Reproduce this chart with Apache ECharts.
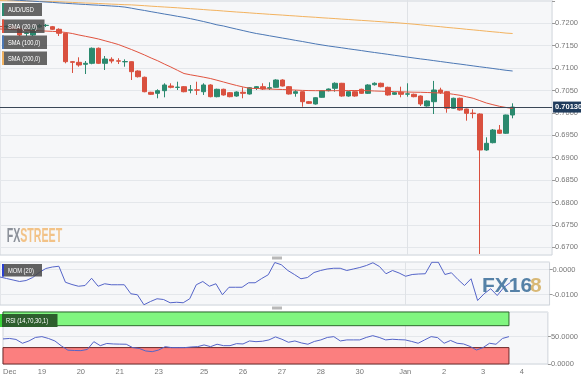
<!DOCTYPE html>
<html><head><meta charset="utf-8">
<script src="https://cdn.jsdelivr.net/npm/echarts@6/dist/echarts.min.js"></script>
<style>html,body{margin:0;padding:0;background:#fff}#c{width:581px;height:380px}</style>
</head><body><div id="c"></div>
<script>
// ---- DATA (AUD/USD 4H) ----
const tickIndex = [0,6,12,18,24,31,37,43,49,55,62,68,74,80];
const tickText  = ['Dec','19','20','21','23','25','26','27','28','30','Jan','2','3','4'];
const slotCount = 85;

const opens = [0.71930,0.71924,0.71935,0.71888,0.71775,0.71739,0.71917,0.71951,0.71924,0.71866,
0.71777,0.71143,0.71129,0.71085,0.71107,0.71442,0.71107,0.71196,0.71162,0.71140,
0.71143,0.70935,0.70795,0.70460,0.70437,0.70496,0.70600,0.70568,0.70585,0.70508,
0.70514,0.70473,0.70623,0.70362,0.70527,0.70451,0.70377,0.70460,0.70422,0.70549,
0.70585,0.70549,0.70571,0.70734,0.70585,0.70437,0.70473,0.70250,0.70199,0.70348,
0.70496,0.70549,0.70661,0.70377,0.70473,0.70527,0.70437,0.70629,0.70661,0.70571,
0.70415,0.70460,0.70418,0.70415,0.70377,0.70154,0.70250,0.70511,0.70473,0.70103,
0.70326,0.70087,0.69995,0.69975,0.69172,0.69335,0.69618,0.69545,0.69953];
const closes = [0.71924,0.71935,0.71866,0.71739,0.71785,0.71895,0.71951,0.71955,0.71866,0.71777,
0.71143,0.71129,0.71069,0.71107,0.71442,0.71107,0.71203,0.71158,0.71155,0.71146,
0.70920,0.70808,0.70473,0.70415,0.70496,0.70623,0.70571,0.70575,0.70473,0.70514,
0.70508,0.70623,0.70362,0.70527,0.70400,0.70362,0.70466,0.70437,0.70562,0.70585,
0.70533,0.70562,0.70734,0.70600,0.70422,0.70473,0.70250,0.70214,0.70339,0.70496,
0.70533,0.70661,0.70377,0.70473,0.70377,0.70437,0.70623,0.70661,0.70585,0.70400,
0.70451,0.70415,0.70425,0.70362,0.70199,0.70266,0.70511,0.70451,0.70103,0.70326,
0.70065,0.69991,0.69985,0.69172,0.69321,0.69618,0.69545,0.69953,0.70130];
const lows = [0.71895,0.71888,0.71850,0.71716,0.71716,0.71716,0.71895,0.71917,0.71850,0.71716,
0.71107,0.70891,0.71031,0.70868,0.71085,0.71091,0.70958,0.71107,0.71091,0.71031,
0.70734,0.70790,0.70460,0.70400,0.70326,0.70348,0.70549,0.70511,0.70460,0.70437,
0.70400,0.70400,0.70348,0.70348,0.70385,0.70348,0.70362,0.70326,0.70410,0.70511,
0.70511,0.70511,0.70560,0.70590,0.70410,0.70362,0.70138,0.70199,0.70185,0.70339,
0.70480,0.70473,0.70362,0.70362,0.70362,0.70422,0.70422,0.70610,0.70570,0.70385,
0.70400,0.70348,0.70362,0.70348,0.70154,0.70140,0.69975,0.70422,0.70004,0.70090,
0.70050,0.69826,0.69879,0.66850,0.69155,0.69320,0.69530,0.69530,0.69879];
const highs = [0.71962,0.71951,0.71962,0.71917,0.71810,0.71917,0.71984,0.71984,0.71940,0.71888,
0.71790,0.71158,0.71241,0.71158,0.71460,0.71460,0.71270,0.71241,0.71220,0.71196,
0.71150,0.70950,0.70810,0.70470,0.70527,0.70661,0.70661,0.70696,0.70600,0.70623,
0.70696,0.70661,0.70640,0.70540,0.70540,0.70466,0.70480,0.70571,0.70575,0.70600,
0.70661,0.70683,0.70750,0.70750,0.70600,0.70511,0.70480,0.70266,0.70348,0.70511,
0.70545,0.70683,0.70670,0.70485,0.70485,0.70540,0.70640,0.70683,0.70675,0.70585,
0.70466,0.70585,0.70661,0.70430,0.70390,0.70280,0.70714,0.70562,0.70485,0.70340,
0.70340,0.70095,0.70080,0.69990,0.69455,0.69640,0.69730,0.69960,0.70214];

const sma20 = [0.71873,0.71866,0.71859,0.71853,0.71846,0.71839,0.71833,0.71826,0.71819,0.71812,
0.71795,0.71772,0.71739,0.71710,0.71681,0.71649,0.71609,0.71569,0.71527,0.71471,
0.71415,0.71355,0.71292,0.71225,0.71163,0.71091,0.71024,0.70951,0.70879,0.70850,
0.70824,0.70797,0.70768,0.70730,0.70690,0.70650,0.70612,0.70578,0.70549,0.70545,
0.70538,0.70533,0.70527,0.70522,0.70516,0.70509,0.70502,0.70498,0.70496,0.70496,
0.70496,0.70496,0.70496,0.70498,0.70500,0.70498,0.70496,0.70489,0.70484,0.70480,
0.70475,0.70471,0.70466,0.70462,0.70460,0.70455,0.70449,0.70444,0.70437,0.70415,
0.70393,0.70359,0.70326,0.70274,0.70221,0.70183,0.70147,0.70121,0.70098];
const sma100 = [0.72538,0.72529,0.72520,0.72511,0.72502,0.72493,0.72484,0.72475,0.72466,0.72455,
0.72446,0.72437,0.72428,0.72420,0.72411,0.72404,0.72395,0.72386,0.72377,0.72362,
0.72337,0.72310,0.72286,0.72259,0.72234,0.72207,0.72183,0.72156,0.72132,0.72103,
0.72071,0.72038,0.72004,0.71966,0.71940,0.71904,0.71870,0.71837,0.71803,0.71772,
0.71748,0.71721,0.71696,0.71670,0.71645,0.71618,0.71594,0.71567,0.71540,0.71516,
0.71493,0.71473,0.71453,0.71431,0.71411,0.71391,0.71368,0.71348,0.71328,0.71308,
0.71286,0.71266,0.71245,0.71225,0.71205,0.71187,0.71167,0.71147,0.71127,0.71107,
0.71089,0.71069,0.71049,0.71029,0.71011,0.70991,0.70971,0.70951,0.70935];
const sma200 = [0.72507,0.72504,0.72502,0.72498,0.72495,0.72493,0.72489,0.72487,0.72484,0.72480,
0.72473,0.72466,0.72460,0.72453,0.72449,0.72442,0.72435,0.72428,0.72422,0.72415,
0.72411,0.72402,0.72393,0.72382,0.72373,0.72364,0.72355,0.72346,0.72335,0.72326,
0.72317,0.72306,0.72295,0.72286,0.72274,0.72263,0.72252,0.72243,0.72232,0.72221,
0.72212,0.72201,0.72192,0.72183,0.72172,0.72163,0.72152,0.72143,0.72134,0.72123,
0.72114,0.72105,0.72094,0.72085,0.72074,0.72065,0.72056,0.72045,0.72036,0.72024,
0.72016,0.72004,0.71993,0.71980,0.71966,0.71951,0.71937,0.71924,0.71908,0.71895,
0.71882,0.71866,0.71853,0.71839,0.71824,0.71810,0.71797,0.71781,0.71772];

const mom20 = [-0.0030,-0.0036,-0.0042,-0.0048,-0.0044,-0.0032,-0.0012,0.0004,0.0010,0.0013,
-0.0051,-0.0060,-0.0067,-0.0064,-0.0035,-0.0067,-0.0057,-0.0061,-0.0061,-0.0061,
-0.0097,-0.0101,-0.0141,-0.0128,-0.0117,-0.0120,-0.0133,-0.0131,-0.0133,-0.0117,
-0.0061,-0.0048,-0.0067,-0.0057,-0.0101,-0.0071,-0.0071,-0.0071,-0.0053,-0.0053,
-0.0036,-0.0021,0.0028,0.0019,-0.0004,-0.0020,-0.0037,-0.0032,-0.0012,-0.0004,
0.0002,0.0005,0.0005,-0.0004,0.0002,0.0008,0.0016,0.0027,0.0012,-0.0017,
-0.0004,-0.0014,-0.0027,-0.0020,-0.0018,-0.0017,0.0029,0.0029,-0.0020,-0.0013,
-0.0040,-0.0064,-0.0037,-0.0124,-0.0097,-0.0077,-0.0104,-0.0072,-0.0052];

const rsi14 = [45.8,46.7,44.9,37.9,42.1,48.5,50.0,46.7,42.1,33.0,
25.3,24.7,24.4,26.6,40.8,33.5,37.5,36.6,36.3,36.1,
29.9,28.4,23.8,22.5,25.6,31.7,29.9,29.9,29.9,31.1,
31.7,34.8,31.7,36.1,33.5,33.5,37.2,36.6,42.1,40.8,
41.6,44.0,49.5,45.2,39.7,42.1,38.5,36.1,41.2,44.0,
48.5,50.0,42.1,44.0,44.0,44.0,48.5,51.8,48.5,44.0,
45.2,44.5,44.0,41.2,37.9,44.0,50.0,48.2,37.9,43.0,
37.9,36.6,32.1,25.6,29.9,37.9,36.1,46.7,50.0];
const rsiUpper = 70, rsiLower = 30;

// ---- BUILD ----
const categories = Array.from({length: slotCount}, (_, i) => 'bar' + i);
const candleData = opens.map((o, i) => [o, closes[i], lows[i], highs[i]]);
const lastPrice = closes[closes.length - 1];
const lastIdx = closes.length - 1;

const UP = '#2b8a6f', DOWN = '#d9503f';
const FONT = '"Liberation Sans", Arial, sans-serif';
const bg = '#f6f7f9', border = '#cfd4da', gridC = '#e4e7eb';

function xAx(gi, labels) {
  return {
    type: 'category', gridIndex: gi, boundaryGap: false,
    data: labels ? categories.map((c, i) => i === 0 ? {value: c, textStyle: {align: 'left'}} : c) : categories,
    axisLine: {show: false}, axisTick: {show: false},
    axisLabel: labels ? {
      show: true, interval: (i) => tickIndex.indexOf(i) >= 0,
      formatter: (v, i) => { const k = tickIndex.indexOf(i); return k >= 0 ? tickText[k] : ''; },
      fontSize: 7.5, color: '#777', fontFamily: FONT, margin: 4
    } : {show: false},
    splitLine: {show: true, interval: (i) => i === tickIndex[tickText.indexOf('Jan')], lineStyle: {color: '#dfe2e6'}}
  };
}
function yAx(gi, extra) {
  return Object.assign({
    type: 'value', gridIndex: gi, position: 'right',
    axisLine: {show: false},
    axisTick: {show: true, length: 3, lineStyle: {color: '#999'}},
    splitLine: {show: true, lineStyle: {color: gridC}}
  }, extra);
}
const lblBase = {fontSize: 7.5, color: '#777', fontFamily: FONT, margin: 3, showMinLabel: false, showMaxLabel: false};

function box(x, y, w, h, fill, stripe, text) {
  return {
    type: 'group', children: [
      {type: 'rect', z: 100, shape: {x: x, y: y, width: w, height: h}, style: {fill: fill}},
      {type: 'rect', z: 101, shape: {x: x, y: y, width: 2, height: h}, style: {fill: stripe}},
      {type: 'text', z: 102, x: x + 6, y: y + h / 2 + 0.5, scaleX: 0.82,
       style: {text: text, x: 0, y: 0, fill: '#fff', fontSize: 7, fontFamily: FONT,
               align: 'left', verticalAlign: 'middle', textAlign: 'left', textVerticalAlign: 'middle'}}
    ]
  };
}
function txt(x, y, s, color, size, sx, z) {
  return {type: 'text', x: x, y: y, scaleX: sx, z: z,
    style: {text: s, x: 0, y: 0, fill: color, fontSize: size, fontWeight: 'bold', fontFamily: FONT,
            align: 'left', verticalAlign: 'middle', textAlign: 'left', textVerticalAlign: 'middle'}};
}

const chart = echarts.init(document.getElementById('c'), null, {renderer: 'canvas'});
chart.setOption({
  animation: false,
  backgroundColor: '#fff',
  grid: [
    {left: 0, width: 555, top: 0, height: 255, show: true, backgroundColor: bg, borderColor: border, borderWidth: 1},
    {left: 0, width: 555, top: 262, height: 43, show: true, backgroundColor: bg, borderColor: border, borderWidth: 1},
    {left: 0, width: 555, top: 312, height: 52, show: true, backgroundColor: bg, borderColor: border, borderWidth: 1}
  ],
  xAxis: [xAx(0, false), xAx(1, false), xAx(2, true)],
  yAxis: [
    yAx(0, {min: 0.66828, max: 0.7252, splitNumber: 11,
      axisLabel: Object.assign({}, lblBase, {formatter: (v) => v > 0.7226 ? '' : v.toFixed(4)})}),
    yAx(1, {min: -0.0142, max: 0.0030, splitNumber: 2,
      axisLabel: Object.assign({}, lblBase, {formatter: (v) => v.toFixed(4)})}),
    yAx(2, {min: 0, max: 95, interval: 50,
      axisLabel: Object.assign({}, lblBase, {showMinLabel: true, formatter: (v) => v.toFixed(4)})})
  ],
  series: [
    {type: 'candlestick', xAxisIndex: 0, yAxisIndex: 0, data: candleData, barWidth: 5,
     itemStyle: {color: UP, color0: DOWN, borderColor: UP, borderColor0: DOWN, borderWidth: 1},
     markLine: {silent: true, symbol: ['none', 'none'], animation: false, precision: 5,
       lineStyle: {color: '#3a4757', width: 1, type: 'solid'},
       label: {show: true, position: 'end', formatter: lastPrice.toFixed(5), distance: 1,
         backgroundColor: '#1f3b5c', color: '#fff', fontSize: 7.5, fontWeight: 'bold', fontFamily: FONT, padding: [2, 2, 1, 2]},
       data: [{yAxis: lastPrice}]}},
    {type: 'line', xAxisIndex: 0, yAxisIndex: 0, data: sma200, symbol: 'none', z: 3,
     lineStyle: {color: '#f2b25f', width: 1}},
    {type: 'line', xAxisIndex: 0, yAxisIndex: 0, data: sma100, symbol: 'none', z: 3,
     lineStyle: {color: '#4b77b4', width: 1}},
    {type: 'line', xAxisIndex: 0, yAxisIndex: 0, data: sma20, symbol: 'none', z: 3,
     lineStyle: {color: '#e0533f', width: 1}},
    {type: 'line', xAxisIndex: 1, yAxisIndex: 1, data: mom20, symbol: 'none', z: 3,
     lineStyle: {color: '#5464c8', width: 1}},
    {type: 'line', xAxisIndex: 2, yAxisIndex: 2, data: rsi14, symbol: 'none', z: 3,
     lineStyle: {color: '#5464c8', width: 1},
     markArea: {silent: true, animation: false, data: [
       [{xAxis: 0, yAxis: rsiUpper, itemStyle: {color: '#80f680', borderColor: '#2f6b2f', borderWidth: 1}}, {xAxis: lastIdx, yAxis: 100}],
       [{xAxis: 0, yAxis: 0, itemStyle: {color: '#fb7f7f', borderColor: '#6e2a2a', borderWidth: 1}}, {xAxis: lastIdx, yAxis: rsiLower}]
     ]}}
  ],
  graphic: [
    txt(6.7, 236, 'FX', '#8c919a', 20, 0.53, 1),
    txt(20.3, 236, 'STREET', '#f2c287', 20, 0.53, 1),
    txt(482, 286, 'FX16', 'rgba(70,118,160,0.92)', 21, 1, 50),
    txt(530, 286, '8', 'rgba(214,180,110,0.95)', 21, 1, 50),
    box(2, 3, 40, 13, 'rgba(70,70,70,0.82)', UP, 'AUD/USD'),
    box(2, 19.5, 42.5, 13.5, 'rgba(70,70,70,0.82)', '#e0533f', 'SMA (20,0)'),
    box(2, 35.5, 45, 13.5, 'rgba(70,70,70,0.82)', '#4b77b4', 'SMA (100,0)'),
    box(2, 51.5, 45, 13.5, 'rgba(70,70,70,0.82)', '#f2b25f', 'SMA (200,0)'),
    box(2, 264, 40, 12.5, 'rgba(70,70,70,0.85)', '#2a3fd0', 'MOM (20)'),
    box(0, 314, 57.5, 13, '#2d5e2d', '#39d639', 'RSI (14,70,30,1)'),
    {type: 'rect', z: 100, shape: {x: 272, y: 256.5, width: 10, height: 3}, style: {fill: '#b8b8b8'}},
    {type: 'rect', z: 100, shape: {x: 272, y: 306.5, width: 10, height: 3}, style: {fill: '#b8b8b8'}}
  ]
});
</script>
</body></html>
